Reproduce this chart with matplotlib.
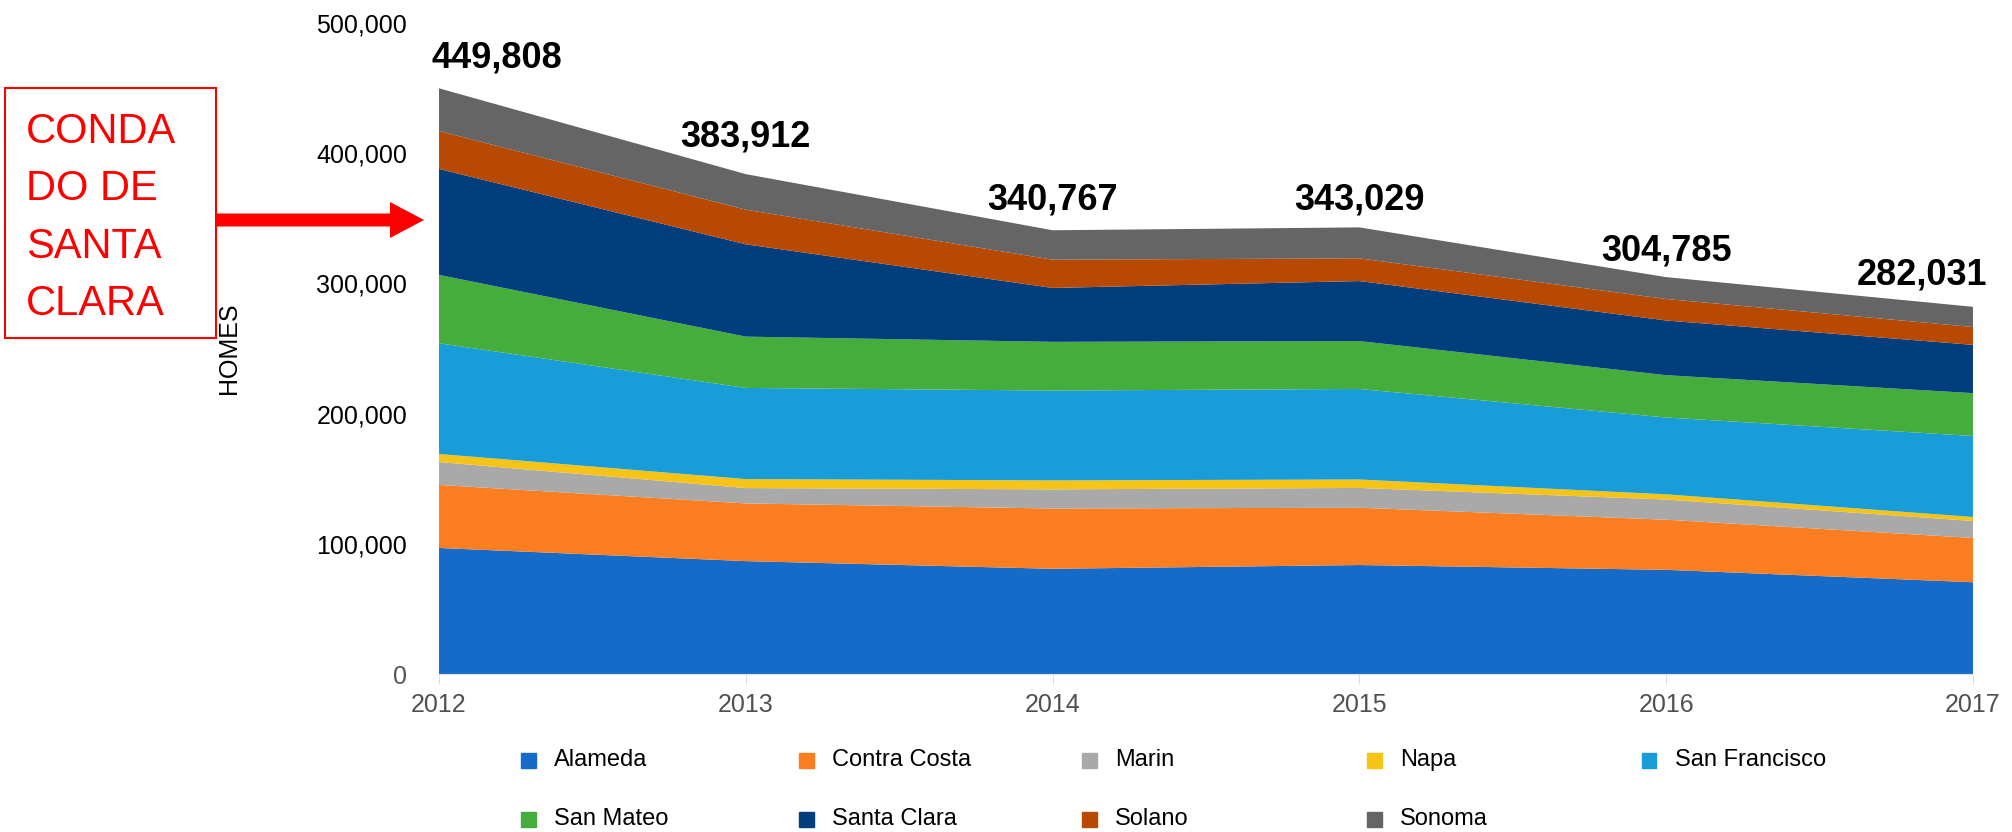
import matplotlib
matplotlib.use("Agg")
import matplotlib.pyplot as plt
from matplotlib.patches import Rectangle, FancyArrow
from matplotlib.ticker import FuncFormatter

plt.rcParams['font.family'] = ['Liberation Sans', 'DejaVu Sans']

# data (homes)
years = [2012, 2013, 2014, 2015, 2016, 2017]
counties = ["Alameda", "Contra Costa", "Marin", "Napa", "San Francisco",
            "San Mateo", "Santa Clara", "Solano", "Sonoma"]
alameda = [96800, 86700, 80800, 83700, 80000, 70500]
contra_costa = [48400, 44300, 46300, 44000, 38500, 34000]
marin = [17600, 11800, 14700, 15200, 15500, 13000]
napa = [6200, 6900, 6900, 6500, 4000, 3100]
san_francisco = [85000, 70000, 69000, 69500, 59000, 62200]
san_mateo = [52500, 39400, 37400, 36800, 32500, 32900]
santa_clara = [81400, 70900, 41400, 46100, 42000, 37100]
solano = [29100, 26600, 21700, 17400, 16500, 13700]
sonoma = [32800, 27300, 22600, 23800, 16800, 15500]
totals = [449808, 383912, 340767, 343029, 304785, 282031]
yticks = [0, 100000, 200000, 300000, 400000, 500000]

colors = ["#166bc8", "#fd7e20", "#a9a9a9", "#f6c417", "#199dd8",
          "#45ad3c", "#023e7d", "#b84903", "#656565"]

fig = plt.figure(figsize=(20.12, 8.32), dpi=100)
ax = fig.add_axes([0.2182, 0.1899, 0.7624, 0.7825])

series = [alameda, contra_costa, marin, napa, san_francisco,
          san_mateo, santa_clara, solano, sonoma]
ax.stackplot(years, series, colors=colors, labels=counties, linewidth=0)

ax.set_xlim(2012, 2017)
ax.set_ylim(0, 500000)
ax.set_xticks(years)
ax.set_yticks(yticks)
ax.yaxis.set_major_formatter(FuncFormatter(lambda v, p: f"{int(v):,}"))

for s in ["top", "right", "left"]:
    ax.spines[s].set_visible(False)
ax.spines["bottom"].set_color("#e2e2e2")

ax.tick_params(axis="y", length=0, pad=23, labelsize=18, labelcolor="black")
ax.tick_params(axis="x", length=7, color="#dddddd", pad=7, labelsize=18,
               labelcolor="#505050")
ax.get_yticklabels()[0].set_color("#555555")

ax.set_ylabel("HOMES", fontsize=18)
ax.yaxis.set_label_coords(-0.129, 0.50)

# total labels above each year
dx = [42, 0, 0, 0, 0, -37]
dy = [22, 27, 22, 20, 19, 23]
for i, (yr, t) in enumerate(zip(years, totals)):
    ax.annotate(f"{t:,}", (yr, t), xytext=(dx[i], dy[i]),
                textcoords="offset points", ha="center", va="center",
                fontsize=26, fontweight="bold", annotation_clip=False)

# legend, two rows of five
col_x = [528, 806, 1089, 1374, 1649]
row_y = [760, 819]
for i, name in enumerate(counties):
    cx = col_x[i % 5]
    cy = row_y[i // 5]
    fig.add_artist(Rectangle(((cx - 7.5) / 100, (832 - cy - 7.5) / 100), 0.15, 0.15,
                             transform=fig.dpi_scale_trans, color=colors[i]))
    fig.text((cx + 26) / 2012, (832 - cy) / 832, name, fontsize=17,
             va="center", ha="left")

# red callout box with arrow
fig.add_artist(Rectangle((0.05, 4.94), 2.11, 2.50, transform=fig.dpi_scale_trans,
                         fill=False, edgecolor="red", linewidth=1.5))
callout = ["CONDA", "DO DE", "SANTA", "CLARA"]
baselines = [143, 200, 258, 315]
for line, b in zip(callout, baselines):
    fig.text(26 / 2012, (832 - b) / 832, line, color="red", fontsize=30,
             va="baseline", ha="left")
fig.add_artist(FancyArrow(2.16, 6.12, 2.08, 0, width=0.13, head_width=0.36,
                          head_length=0.34, length_includes_head=True,
                          transform=fig.dpi_scale_trans, color="red", linewidth=0))

fig.savefig("out.png", dpi=100)
